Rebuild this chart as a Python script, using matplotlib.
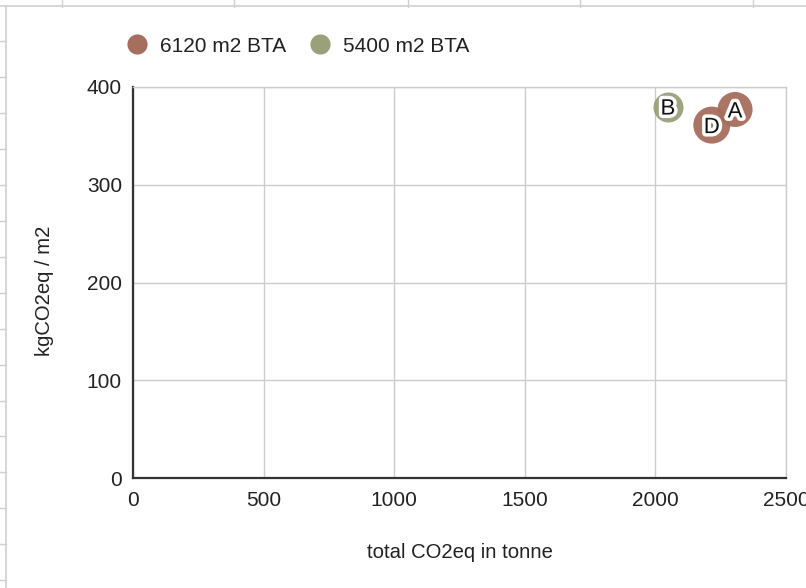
import matplotlib
matplotlib.use("Agg")
import matplotlib.pyplot as plt
from matplotlib.lines import Line2D
import matplotlib.patheffects as pe

plt.rcParams['font.family'] = ['Liberation Sans', 'DejaVu Sans']

# Data: total CO2eq (tonne) vs kgCO2eq per m2, grouped by gross floor area
series_names = ["6120 m2 BTA", "5400 m2 BTA"]
labels_6120 = ["D", "A"]
total_6120 = [2216, 2305]
per_m2_6120 = [361, 377]
labels_5400 = ["B"]
total_5400 = [2048]
per_m2_5400 = [380]

x_ticks = [0, 500, 1000, 1500, 2000, 2500]
y_ticks = [0, 100, 200, 300, 400]

# Styling
colors = ["#a66e5c", "#99a07a"]
radius_6120 = [18.5, 17.5]
radius_5400 = [15]
W, H = 806, 588
DPI = 100
TXT = "#222222"

fig = plt.figure(figsize=(W / DPI, H / DPI), dpi=DPI)
fig.patch.set_facecolor("white")

# spreadsheet cell lines behind the embedded chart
cell_col = "#d0d0d0"
for xc in [62, 234, 408, 580, 753]:
    fig.add_artist(Line2D([xc / W, xc / W], [1, 1 - 7 / H], color=cell_col, lw=1))
fig.add_artist(Line2D([0, 1], [1 - 6 / H, 1 - 6 / H], color=cell_col, lw=1.2))
for yc in [41, 77, 113, 149, 185, 221, 257, 293, 329, 365, 401, 436, 472, 508, 544, 580]:
    fig.add_artist(Line2D([0, 6 / W], [1 - yc / H, 1 - yc / H], color=cell_col, lw=1))
fig.add_artist(Line2D([6 / W, 6 / W], [0, 1 - 6 / H], color=cell_col, lw=1.2))

ax = fig.add_axes([133 / W, 1 - 478 / H, (786 - 133) / W, (478 - 87) / H])
ax.set_xlim(0, 2500)
ax.set_ylim(0, 400)
ax.set_xticks(x_ticks)
ax.set_yticks(y_ticks)
ax.set_xticklabels([str(v) for v in x_ticks])
ax.set_yticklabels([str(v) for v in y_ticks])
ax.grid(True, color="#cccccc", lw=1)
ax.set_axisbelow(True)
for side in ["top", "right"]:
    ax.spines[side].set_color("#cccccc")
    ax.spines[side].set_linewidth(1)
for side in ["left", "bottom"]:
    ax.spines[side].set_color("#333333")
    ax.spines[side].set_linewidth(1.6)
ax.tick_params(length=0, labelsize=15, colors=TXT)
ax.tick_params(axis="x", pad=9)
ax.tick_params(axis="y", pad=8)

def area(r_px):
    d_pt = 2 * r_px * 72 / DPI
    return d_pt ** 2

halo = [pe.withStroke(linewidth=5, foreground="white")]

ax.scatter(total_5400, per_m2_5400, s=[area(r) for r in radius_5400],
           color=colors[1], alpha=0.95, zorder=3, linewidths=0)
ax.scatter(total_6120, per_m2_6120, s=[area(r) for r in radius_6120],
           color=colors[0], alpha=0.95, zorder=3, linewidths=0)

for lab, x, y in zip(labels_5400 + labels_6120, total_5400 + total_6120,
                     per_m2_5400 + per_m2_6120):
    ax.text(x, y, lab, ha="center", va="center_baseline", fontsize=16, color="#111111",
            path_effects=halo, zorder=5)

ax.set_xlabel("total CO2eq in tonne", fontsize=14.6, color=TXT, labelpad=24)
ax.set_ylabel("kgCO2eq / m2", fontsize=14.6, color=TXT)
ax.yaxis.set_label_coords(-(133 - 54) / (786 - 133), 0.48)

handles = [Line2D([], [], marker="o", ls="none", markersize=14.5, color=c,
                  markeredgewidth=0) for c in colors]
fig.legend(handles, series_names, loc="center left",
           bbox_to_anchor=(127 / W, 1 - 46 / H), ncol=2, frameon=False,
           fontsize=15, handlelength=1.0, handletextpad=0.6,
           columnspacing=1.1, borderpad=0, borderaxespad=0,
           labelcolor=TXT)

fig.savefig("out.png", dpi=DPI, facecolor="white")
